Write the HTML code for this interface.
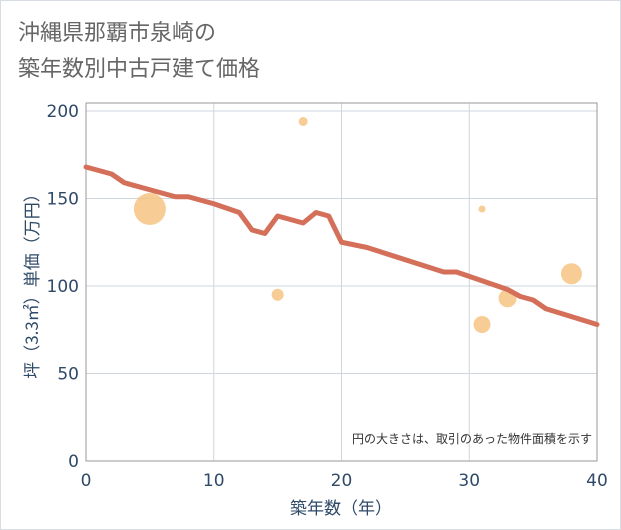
<!DOCTYPE html>
<html><head><meta charset="utf-8"><style>
body{margin:0;background:#fff;}
svg{display:block;font-family:"DejaVu Sans","Noto Sans CJK JP",sans-serif;}
</style></head><body>
<svg width="621" height="530" viewBox="0 0 621 530">
<rect x="0.5" y="0.5" width="620" height="529" fill="#fff" stroke="#d8dde3"/>
<text x="18" y="40" font-size="22" fill="#666" font-family="Noto Sans CJK JP,sans-serif">沖縄県那覇市泉崎の</text>
<text x="18" y="76" font-size="22" fill="#666" font-family="Noto Sans CJK JP,sans-serif">築年数別中古戸建て価格</text>
<g id="grid"></g>
<rect x="86" y="103" width="511" height="358" fill="none" stroke="#999" stroke-width="1"/>
<g id="bubbles"></g>
<g id="line"></g>
<g id="ticks"></g>
<text x="592" y="443" font-size="12" fill="#333" text-anchor="end" font-family="Noto Sans CJK JP,sans-serif">円の大きさは、取引のあった物件面積を示す</text>
<text x="341" y="514" font-size="17" fill="#2e4a68" text-anchor="middle" font-family="Noto Sans CJK JP,sans-serif">築年数（年）</text>
<text transform="translate(38,282) rotate(-90)" font-size="17" fill="#2e4a68" text-anchor="middle" font-family="Noto Sans CJK JP,sans-serif">坪（3.3㎡）単価（万円）</text>
</svg>
<script>
const xTicks=[0,10,20,30,40];
const yTicks=[0,50,100,150,200];
const lineX=[0,2,3,5,7,8,10,12,13,14,15,17,18,19,20,22,28,29,33,34,35,36,40];
const lineY=[168,164,159,155,151,151,147,142,132,130,140,136,142,140,125,122,108,108,98,94,92,87,78];
const bubX=[5,15,17,31,31,33,38];
const bubY=[144,95,194,144,78,93,107];
const bubR=[16,6,4.5,3.5,8.5,9,10.5];
const NS="http://www.w3.org/2000/svg";
const sx=v=>86+v*(511/40);
const sy=v=>461-v*1.75;
function mk(t,a,p){const e=document.createElementNS(NS,t);for(const k in a)e.setAttribute(k,a[k]);p.appendChild(e);return e;}
const grid=document.getElementById('grid'),ticks=document.getElementById('ticks');
xTicks.forEach(t=>{
 if(t>0&&t<40){const l=mk('line',{x1:sx(t),x2:sx(t),y1:103,y2:461,stroke:'#cfd6de'},grid);
 
 }
 const tx=mk('text',{x:sx(t),y:486,'font-size':17,fill:'#2e4a68','text-anchor':'middle'},ticks);tx.textContent=t;
 
 
});
yTicks.forEach(t=>{
 if(t>0){const l=mk('line',{x1:86,x2:597,y1:sy(t),y2:sy(t),stroke:'#cfd6de'},grid);
 
 }
 const tx=mk('text',{x:79,y:sy(t)+6,'font-size':17,fill:'#2e4a68','text-anchor':'end'},ticks);tx.textContent=t;
 
 
});
const bg=document.getElementById('bubbles');
bubX.forEach((x,i)=>{const c=mk('circle',{cx:sx(x),cy:sy(bubY[i]),r:bubR[i],fill:'#f5c07a','fill-opacity':0.8},bg);
 
 });
const pts=lineX.map((x,i)=>sx(x)+','+sy(lineY[i])).join(' ');
const pl=mk('polyline',{points:pts,fill:'none',stroke:'#d4705a','stroke-width':5,'stroke-linejoin':'round','stroke-linecap':'round'},document.getElementById('line'));


</script>
</body></html>
